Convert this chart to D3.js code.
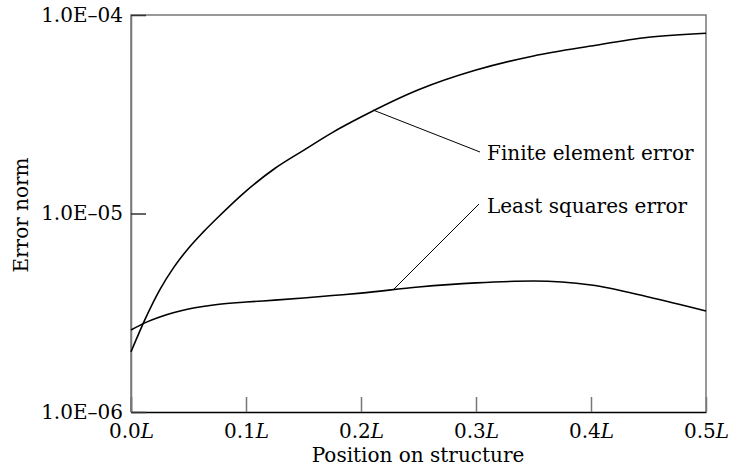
<!DOCTYPE html>
<html><head><meta charset="utf-8">
<script src="https://cdn.jsdelivr.net/npm/d3@7"></script>
<style>body{margin:0;background:#fff}svg{display:block}</style>
</head><body>
<svg id="c" width="730" height="471"></svg>
<script>
const positions = [0, 0.0125, 0.025, 0.0375, 0.05, 0.0625, 0.075, 0.1, 0.125, 0.15, 0.175, 0.2, 0.25, 0.3, 0.35, 0.4, 0.45, 0.5];
const finiteElementError = [2.01e-6, 2.954e-6, 4.123e-6, 5.383e-6, 6.687e-6, 8.03e-6, 9.49e-6, 1.297e-5, 1.685e-5, 2.08e-5, 2.556e-5, 3.06e-5, 4.20e-5, 5.28e-5, 6.22e-5, 6.98e-5, 7.72e-5, 8.09e-5];
const leastSquaresError = [2.59e-6, 2.82e-6, 3.01e-6, 3.17e-6, 3.30e-6, 3.40e-6, 3.48e-6, 3.58e-6, 3.66e-6, 3.75e-6, 3.86e-6, 3.97e-6, 4.26e-6, 4.47e-6, 4.57e-6, 4.36e-6, 3.8e-6, 3.23e-6];
const xTicks = [0, 0.1, 0.2, 0.3, 0.4, 0.5];
const yTicks = [1e-6, 1e-5, 1e-4];
const yTickLabels = ["1.0E–06", "1.0E–05", "1.0E–04"];

const font = "'DejaVu Serif', serif";
const fs = "20px";
const svg = d3.select("#c");
const x = d3.scaleLinear().domain([0, 0.5]).range([131, 706]);
const y = d3.scaleLog().domain([1e-6, 1e-4]).range([412, 15]);

// frame (gray)
svg.append("path").attr("d", `M131,412V15H706V412`).attr("fill", "none").attr("stroke", "#777").attr("stroke-width", 1.5);

const xAxis = svg.append("g").attr("transform", "translate(0,412)")
  .call(d3.axisBottom(x).tickValues(xTicks).tickSizeInner(-15).tickSizeOuter(0).tickFormat(""));
xAxis.select(".domain").attr("stroke", "#000").attr("stroke-width", 1.5);
xAxis.selectAll(".tick line").attr("stroke", "#777").attr("stroke-width", 1.5);
xAxis.selectAll(".tick").filter(d => d === 0).select("line").attr("stroke", "#333");
const xl = xAxis.selectAll(".tick").append("text")
  .attr("y", 26).attr("fill", "#000").attr("text-anchor", "middle")
  .style("font-family", font).style("font-size", fs);
xl.append("tspan").text(d => d.toFixed(1));
xl.append("tspan").attr("font-style", "italic").text("L");

const yAxis = svg.append("g").attr("transform", "translate(131,0)")
  .call(d3.axisLeft(y).tickValues(yTicks).tickSizeInner(-15).tickSizeOuter(0)
    .tickFormat((d, i) => yTickLabels[i]));
yAxis.select(".domain").attr("stroke", "#777").attr("stroke-width", 1.5);
yAxis.selectAll(".tick line").attr("stroke", "#333").attr("stroke-width", 1.5);
yAxis.selectAll(".tick text").attr("fill", "#000").attr("x", -8).attr("dy", "0.3em")
  .style("font-family", font).style("font-size", fs);

const line = d3.line().x(d => x(d[0])).y(d => y(d[1])).curve(d3.curveMonotoneX);
[finiteElementError, leastSquaresError].forEach(s => {
  svg.append("path").datum(positions.map((p, i) => [p, s[i]]))
    .attr("d", line).attr("fill", "none").attr("stroke", "#000").attr("stroke-width", 1.6);
});

// annotations
svg.append("line").attr("x1", 373).attr("y1", 110).attr("x2", 480).attr("y2", 152).attr("stroke", "#000").attr("stroke-width", 1);
svg.append("line").attr("x1", 393).attr("y1", 290).attr("x2", 479).attr("y2", 204).attr("stroke", "#000").attr("stroke-width", 1);
svg.append("text").attr("x", 487).attr("y", 160).text("Finite element error")
  .style("font-family", font).style("font-size", fs);
svg.append("text").attr("x", 487).attr("y", 213).text("Least squares error")
  .style("font-family", font).style("font-size", fs);

svg.append("text").attr("x", 418).attr("y", 462).attr("text-anchor", "middle").text("Position on structure")
  .style("font-family", font).style("font-size", fs);
svg.append("text").attr("transform", "translate(28,215) rotate(-90)").attr("text-anchor", "middle").text("Error norm")
  .style("font-family", font).style("font-size", fs);
</script>
</body></html>
